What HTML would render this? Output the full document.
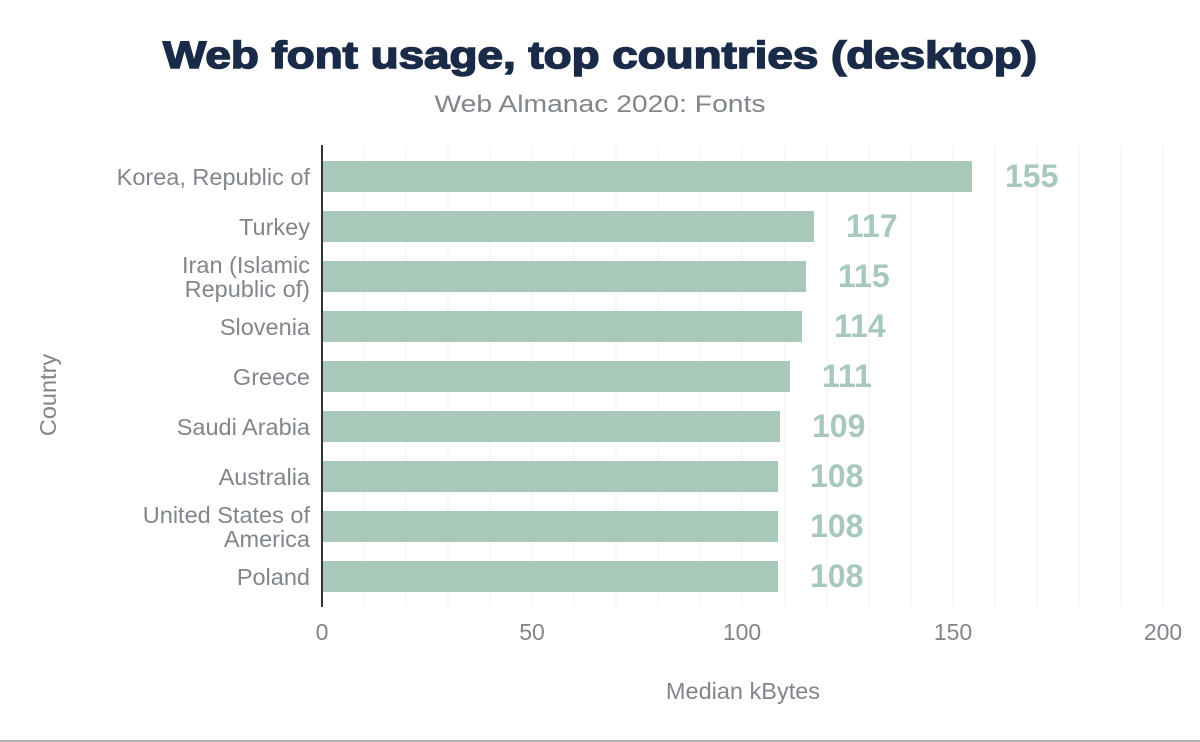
<!DOCTYPE html>
<html><head><meta charset="utf-8"><style>
body{margin:0;background:#fff;}
svg{display:block;font-family:"Liberation Sans",Arial,sans-serif;}
</style></head><body>
<svg width="1200" height="742" viewBox="0 0 1200 742">
<rect width="1200" height="742" fill="#fff"/>
<text x="600" y="68" text-anchor="middle" font-size="38" font-weight="bold" fill="#1a2b49" textLength="874" lengthAdjust="spacingAndGlyphs" stroke="#1a2b49" stroke-width="1.5">Web font usage, top countries (desktop)</text>
<text x="600" y="112" text-anchor="middle" font-size="24" fill="#80868b" textLength="331" lengthAdjust="spacingAndGlyphs">Web Almanac 2020: Fonts</text>
<g stroke="#f0f0f0" stroke-width="1">
<line x1="364" y1="145" x2="364" y2="607"/><line x1="406" y1="145" x2="406" y2="607"/><line x1="448" y1="145" x2="448" y2="607"/><line x1="490" y1="145" x2="490" y2="607"/><line x1="532" y1="145" x2="532" y2="607"/><line x1="574" y1="145" x2="574" y2="607"/><line x1="616" y1="145" x2="616" y2="607"/><line x1="658" y1="145" x2="658" y2="607"/><line x1="700" y1="145" x2="700" y2="607"/><line x1="742" y1="145" x2="742" y2="607"/><line x1="785" y1="145" x2="785" y2="607"/><line x1="827" y1="145" x2="827" y2="607"/><line x1="869" y1="145" x2="869" y2="607"/><line x1="911" y1="145" x2="911" y2="607"/><line x1="953" y1="145" x2="953" y2="607"/><line x1="995" y1="145" x2="995" y2="607"/><line x1="1037" y1="145" x2="1037" y2="607"/><line x1="1079" y1="145" x2="1079" y2="607"/><line x1="1121" y1="145" x2="1121" y2="607"/><line x1="1163" y1="145" x2="1163" y2="607"/>
</g>
<g fill="#a8c9b9">
<rect x="322" y="161" width="650" height="31"/>
<rect x="322" y="211" width="492" height="31"/>
<rect x="322" y="261" width="484" height="31"/>
<rect x="322" y="311" width="480" height="31"/>
<rect x="322" y="361" width="468" height="31"/>
<rect x="322" y="411" width="458" height="31"/>
<rect x="322" y="461" width="456" height="31"/>
<rect x="322" y="511" width="456" height="31"/>
<rect x="322" y="561" width="456" height="31"/>
</g>
<line x1="322" y1="145" x2="322" y2="607" stroke="#333" stroke-width="2"/>
<g fill="#a8c9b9" font-size="32" font-weight="bold">
<text x="1005" y="187">155</text>
<text x="846" y="237">117</text>
<text x="838" y="287">115</text>
<text x="834" y="337">114</text>
<text x="822" y="387">111</text>
<text x="812" y="437">109</text>
<text x="810" y="487">108</text>
<text x="810" y="537">108</text>
<text x="810" y="587">108</text>
</g>
<g fill="#80868b" font-size="23.5" text-anchor="end">
<text x="310" y="185">Korea, Republic of</text>
<text x="310" y="235">Turkey</text>
<text x="310" y="273">Iran (Islamic</text>
<text x="310" y="297">Republic of)</text>
<text x="310" y="335">Slovenia</text>
<text x="310" y="385">Greece</text>
<text x="310" y="435">Saudi Arabia</text>
<text x="310" y="485">Australia</text>
<text x="310" y="523">United States of</text>
<text x="310" y="547">America</text>
<text x="310" y="585">Poland</text>
</g>
<g fill="#80868b" font-size="23" text-anchor="middle">
<text x="322" y="640">0</text>
<text x="532" y="640">50</text>
<text x="742" y="640">100</text>
<text x="953" y="640">150</text>
<text x="1163" y="640">200</text>
<text x="743" y="699" font-size="23.5">Median kBytes</text>
</g>
<text transform="translate(56,395) rotate(-90)" fill="#80868b" font-size="23.5" text-anchor="middle">Country</text>
<line x1="0" y1="741" x2="1200" y2="741" stroke="#999" stroke-width="1.5"/>
</svg>
</body></html>
